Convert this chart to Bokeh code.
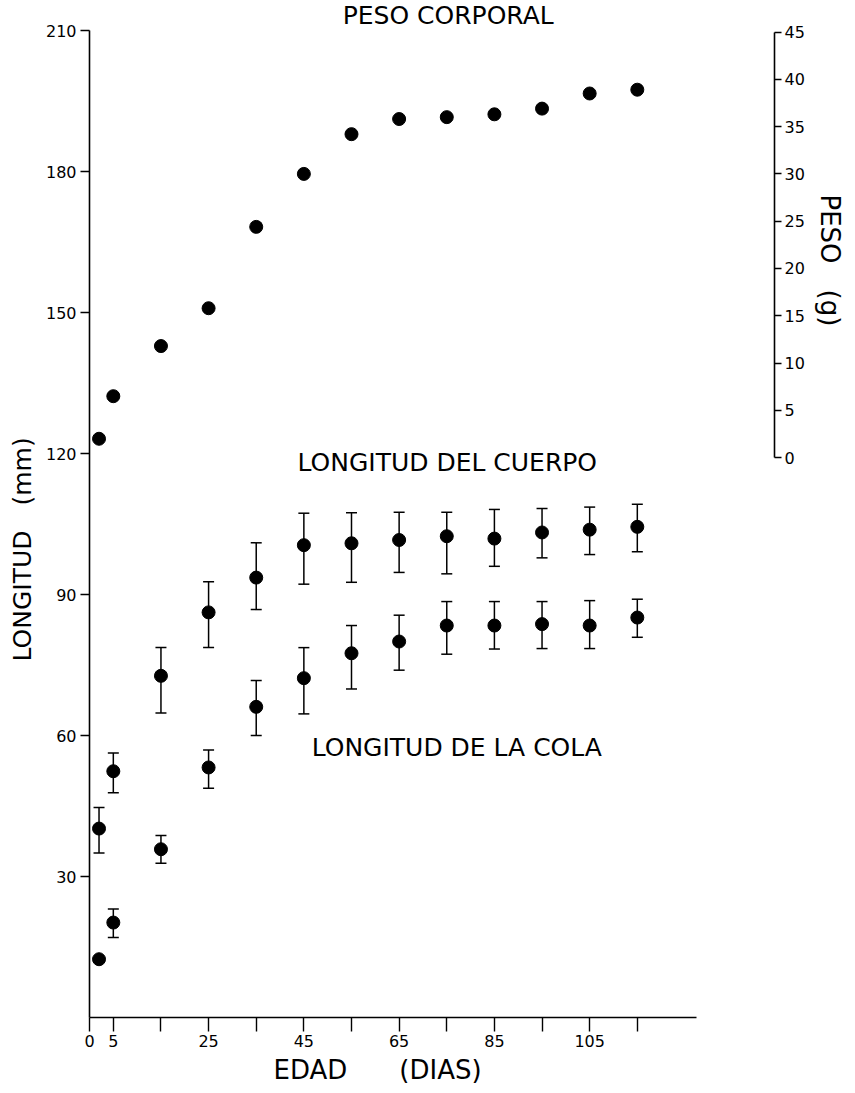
from bokeh.plotting import figure
from bokeh.models import (Range1d, LinearAxis, FixedTicker, Whisker, TeeHead,
                          ColumnDataSource, Label, Title)
from bokeh.embed import file_html
from bokeh.resources import INLINE

# ---- data ----
edad = [2, 5, 15, 25, 35, 45, 55, 65, 75, 85, 95, 105, 115]
peso = [2.0, 6.5, 11.8, 15.8, 24.4, 30.0, 34.2, 35.8, 36.0, 36.3, 36.9, 38.5, 38.9]
cuerpo = [40.2, 52.4, 72.7, 86.2, 93.6, 100.5, 100.9, 101.6, 102.4, 101.9, 103.2, 103.8, 104.4]
cuerpo_sup = [44.7, 56.3, 78.7, 92.7, 101.0, 107.3, 107.4, 107.5, 107.5, 108.1, 108.3, 108.6, 109.2]
cuerpo_inf = [35.0, 47.8, 64.8, 78.7, 86.8, 92.2, 92.6, 94.7, 94.4, 96.0, 97.8, 98.5, 99.1]
cola = [12.4, 20.2, 35.8, 53.2, 66.1, 72.2, 77.5, 80.0, 83.4, 83.4, 83.7, 83.4, 85.1]
cola_sup = [None, 23.1, 38.7, 56.9, 71.7, 78.7, 83.4, 85.6, 88.5, 88.5, 88.5, 88.7, 89.0]
cola_inf = [None, 17.0, 32.8, 48.8, 60.0, 64.6, 69.9, 73.9, 77.3, 78.4, 78.5, 78.5, 80.9]

x_ticks = [0, 5, 15, 25, 35, 45, 55, 65, 75, 85, 95, 105, 115]
x_tick_labels = ["0", "5", "", "25", "", "45", "", "65", "", "85", "", "105", ""]
y_ticks = [30, 60, 90, 120, 150, 180, 210]
peso_ticks = [0, 5, 10, 15, 20, 25, 30, 35, 40, 45]

FONT = "DejaVu Sans"
EM = "\u2003"

p = figure(width=855, height=1093,
           x_range=Range1d(0, 143.8), y_range=Range1d(0, 216.39),
           output_backend="svg", toolbar_location=None,
           min_border_left=88, min_border_right=81,
           min_border_top=0, min_border_bottom=76)
p.outline_line_color = None
p.grid.visible = False
p.background_fill_color = "white"
p.border_fill_color = "white"

def style_axis(ax):
    ax.axis_line_width = 1.6
    ax.axis_line_color = "black"
    ax.major_tick_line_width = 1.4
    ax.major_tick_line_color = "black"
    ax.minor_tick_line_color = None
    ax.major_tick_in = 0
    ax.major_label_text_font = FONT
    ax.major_label_text_font_size = "16px"
    ax.major_label_text_color = "black"

xa = p.xaxis[0]
style_axis(xa)
xa.bounds = (0, 127.5)
xa.ticker = FixedTicker(ticks=x_ticks)
xa.major_label_overrides = {t: l for t, l in zip(x_ticks, x_tick_labels)}
xa.major_tick_out = 14
xa.major_label_standoff = 3

ya = p.yaxis[0]
style_axis(ya)
ya.bounds = (0, 210)
ya.ticker = FixedTicker(ticks=y_ticks)
ya.major_tick_out = 9
ya.major_label_standoff = 4

p.extra_y_ranges = {"peso": Range1d(-59.18, 48.33)}
ra = LinearAxis(y_range_name="peso", bounds=(0, 45), ticker=FixedTicker(ticks=peso_ticks))
style_axis(ra)
ra.major_tick_out = 7
ra.major_label_standoff = 3
p.add_layout(ra, "right")

def side_title(text, side, offset, standoff, size="26px"):
    t = Title(text=text, align="left", offset=offset, standoff=standoff,
              text_font=FONT, text_font_size=size, text_font_style="normal",
              text_color="black")
    p.add_layout(t, side)

side_title("LONGITUD" + EM + "(mm)", "left", 356, 11, "25px")
side_title("PESO" + EM + "(g)", "right", 194, 14)
side_title("EDAD" + EM + EM + "(DIAS)", "below", 184, 7)

# error bars
src_c = ColumnDataSource(dict(x=edad, upper=cuerpo_sup, lower=cuerpo_inf))
cx = [e for e, u in zip(edad, cola_sup) if u is not None]
cu = [u for u in cola_sup if u is not None]
cl = [l for l in cola_inf if l is not None]
src_t = ColumnDataSource(dict(x=cx, upper=cu, lower=cl))
for src in (src_c, src_t):
    w = Whisker(base="x", upper="upper", lower="lower", source=src,
                line_width=1.5, line_color="black",
                upper_head=TeeHead(size=11, line_width=1.5, line_color="black"),
                lower_head=TeeHead(size=11, line_width=1.5, line_color="black"))
    p.add_layout(w)

p.scatter(edad, cuerpo, size=13, color="black")
p.scatter(edad, cola, size=13, color="black")
p.scatter(edad, peso, size=13, color="black", y_range_name="peso")

p.add_layout(Label(x=75.3, y=216.28, text="PESO CORPORAL", text_align="center",
                   text_baseline="top", text_font=FONT, text_font_size="25px",
                   text_color="black"))
for x, y, t in [(75.1, 118.1, "LONGITUD DEL CUERPO"),
                (77.1, 57.4, "LONGITUD DE LA COLA")]:
    p.add_layout(Label(x=x, y=y, text=t, text_align="center", text_baseline="middle",
                       text_font=FONT, text_font_size="25px", text_color="black"))

open("out.html", "w").write(file_html(p, INLINE))
